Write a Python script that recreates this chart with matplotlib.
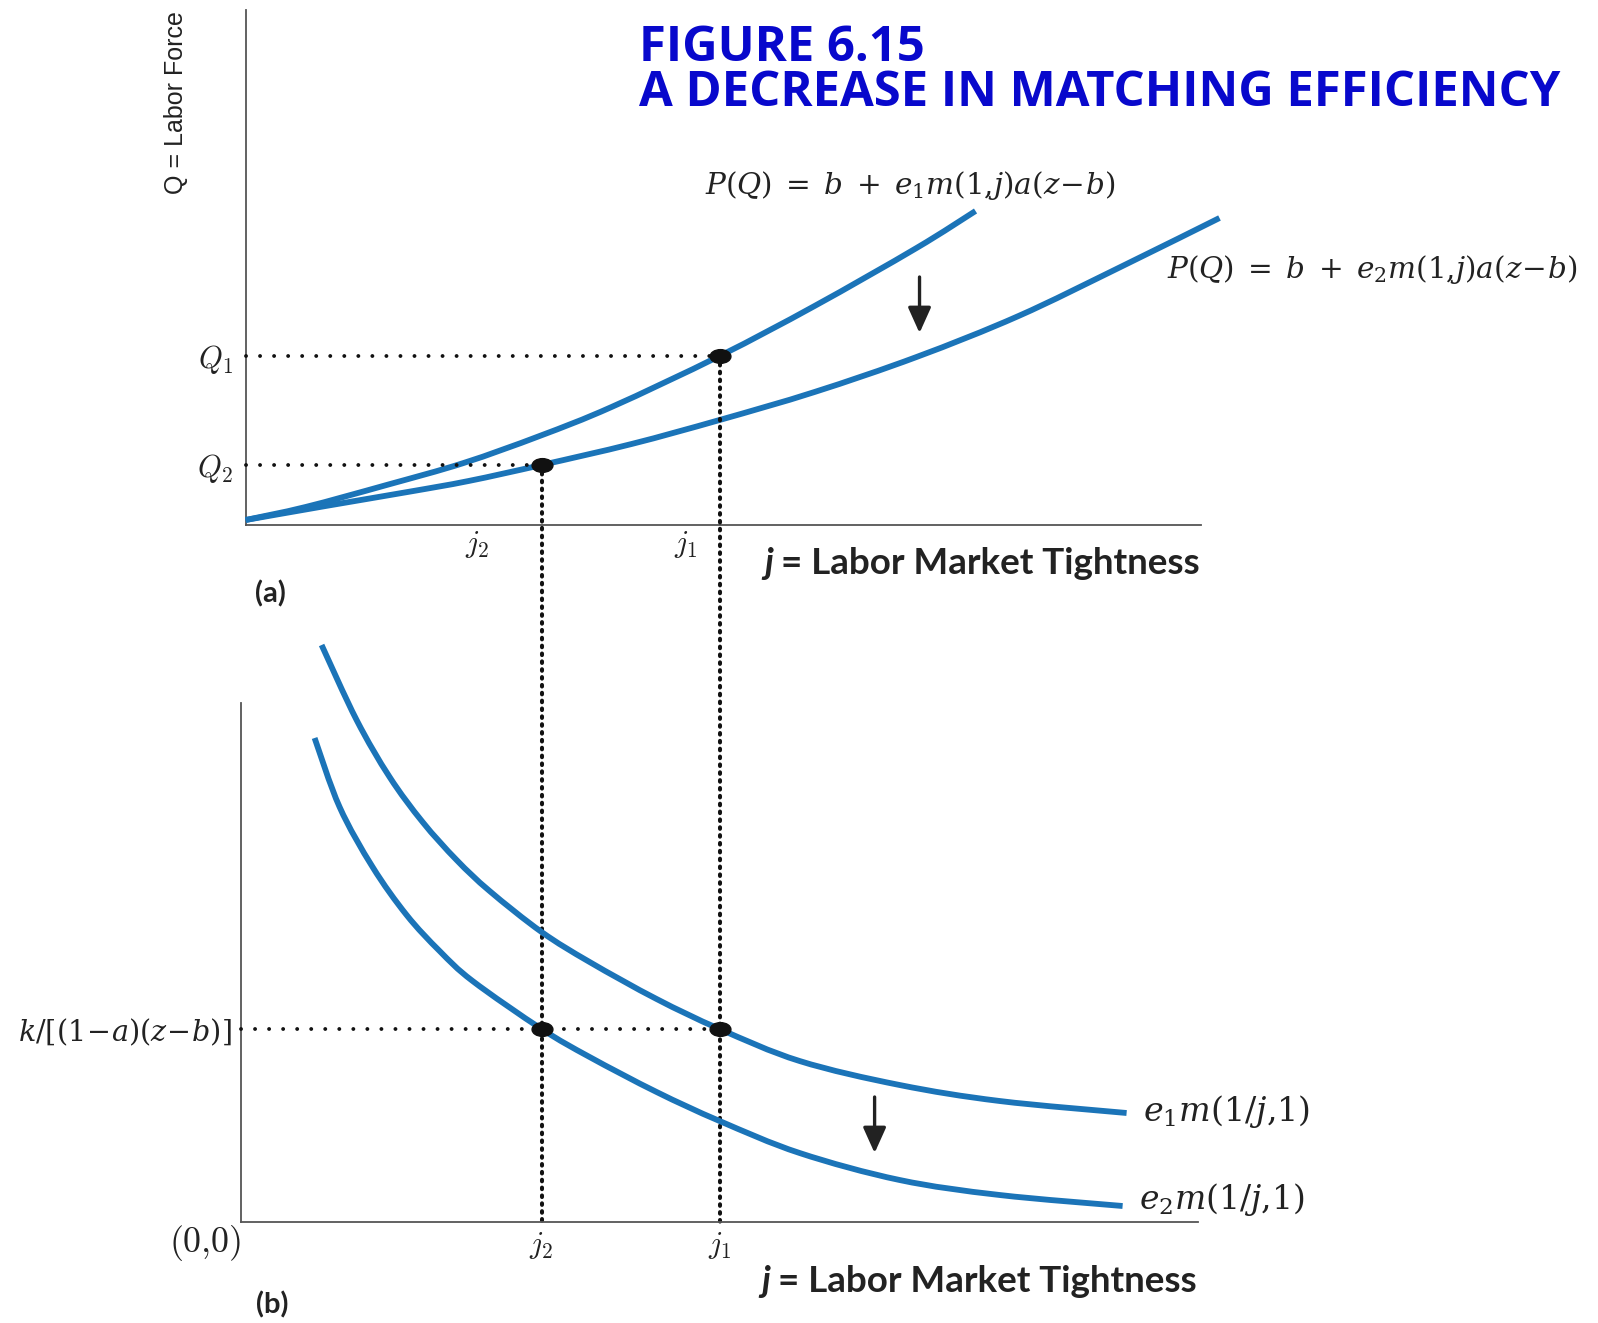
import numpy as np
import matplotlib
matplotlib.use('Agg')
import matplotlib.pyplot as plt
from matplotlib.path import Path
from matplotlib.patches import PathPatch
from matplotlib.text import Annotation
from matplotlib.transforms import Affine2D

W, H = 1598, 1323

# ---- data (axis units ~ pixels from each panel's origin) ----
top_e1_j = [0, 60, 141, 218, 294, 366, 474, 569, 671, 730]
top_e1_q = [5, 18, 40, 62, 89, 118, 169, 219, 277, 314]
top_e2_j = [0, 80, 162, 223, 296, 386, 474, 569, 671, 773, 875, 974]
top_e2_q = [5, 19, 33, 44, 60, 81, 105, 133, 168, 209, 258, 307]
bot_e1_j = [76, 111, 144, 177, 211, 244, 296, 344, 411, 474, 554, 654, 754, 881]
bot_e1_v = [577, 502, 445, 400, 362, 331, 290, 260, 223, 193, 161, 137, 121, 109]
bot_e2_j = [69, 94, 127, 161, 194, 227, 296, 344, 411, 474, 554, 654, 754, 877]
bot_e2_v = [484, 415, 355, 307, 271, 241, 193, 165, 130, 101, 69, 42, 27, 16]
j_eq = [296, 474]          # j2, j1
q_eq = [60, 169]           # Q2, Q1
k_level = 193
j_labels = [r'$j_2$', r'$j_1$']
q_labels = [r'$Q_2$', r'$Q_1$']
k_label = r'$k/[(1\!-\!a)(z\!-\!b)]$'
top_arrow = (674, 248, 192)   # x, from, to
bot_arrow = (629, 125, 69)

BLUE = '#1b74b8'
DOT = '#111111'
SPINE = '#555555'
INK = '#222222'

fig = plt.figure(figsize=(W / 100, H / 100), dpi=100)
renderer = fig.canvas.get_renderer()

def px_axes(left, top, right, bottom):
    return fig.add_axes([left / W, 1 - bottom / H, (right - left) / W, (bottom - top) / H])

ax1 = px_axes(245.6, 10, 1200.5, 525)
ax2 = px_axes(240.5, 703, 1197.5, 1222)
ax1.set_xlim(0, 955); ax1.set_ylim(0, 515)
ax2.set_xlim(-5.1, 951.9); ax2.set_ylim(0, 519)

for ax in (ax1, ax2):
    ax.patch.set_alpha(0)
    for s in ('top', 'right'):
        ax.spines[s].set_visible(False)
    for s in ('left', 'bottom'):
        ax.spines[s].set_color(SPINE)
        ax.spines[s].set_linewidth(1.3)
    ax.tick_params(length=0)

# ---- curves: smooth Bezier path through the read points ----
def smooth_path(xs, ys):
    P = np.column_stack([xs, ys]).astype(float)
    n = len(P)
    verts = [P[0]]
    codes = [Path.MOVETO]
    for i in range(n - 1):
        p0 = P[i - 1] if i > 0 else P[i]
        p1, p2 = P[i], P[i + 1]
        p3 = P[i + 2] if i + 2 < n else P[i + 1]
        verts += [p1 + (p2 - p0) / 6.0, p2 - (p3 - p1) / 6.0, p2]
        codes += [Path.CURVE4] * 3
    return Path(verts, codes)

def curve(ax, xs, ys):
    ax.add_patch(PathPatch(smooth_path(xs, ys), facecolor='none', edgecolor=BLUE,
                           lw=4.2, capstyle='butt', joinstyle='round',
                           clip_on=False, zorder=3))

curve(ax1, top_e1_j, top_e1_q)
curve(ax1, top_e2_j, top_e2_q)
curve(ax2, bot_e1_j, bot_e1_v)
curve(ax2, bot_e2_j, bot_e2_v)

# ---- dotted guides ----
hdots = dict(color=DOT, lw=2.8, linestyle=(0, (0.01, 3.6)), dash_capstyle='round',
             clip_on=False, zorder=4)
vdots = dict(color=DOT, lw=2.9, linestyle=(0, (0.4, 1.55)), dash_capstyle='round',
             clip_on=False, zorder=4)
for j, q in zip(j_eq, q_eq):
    ax1.plot([0, j], [q, q], **hdots)
    disp = ax2.transData.transform((j, 0))
    yb = ax1.transData.inverted().transform(disp)[1]
    ax1.plot([j, j], [q, yb], **vdots)
ax2.plot([ax2.get_xlim()[0], j_eq[1]], [k_level, k_level], **hdots)

# ---- equilibrium points ----
ell = Path(Affine2D().scale(1.0, 0.66).transform(Path.unit_circle().vertices),
           Path.unit_circle().codes)
ax1.plot(j_eq, q_eq, linestyle='none', marker=ell, ms=15, color='#111111', zorder=5,
         clip_on=False)
ax2.plot(j_eq, [k_level, k_level], linestyle='none', marker=ell, ms=15, color='#111111',
         zorder=5, clip_on=False)

# ---- arrows ----
astyle = dict(arrowstyle='-|>,head_length=0.6,head_width=0.27', lw=2.4, color=INK,
              mutation_scale=26, shrinkA=0, shrinkB=0)
ax1.annotate('', xy=(top_arrow[0], top_arrow[2]), xytext=(top_arrow[0], top_arrow[1]),
             arrowprops=astyle, annotation_clip=False)
ax2.annotate('', xy=(bot_arrow[0], bot_arrow[2]), xytext=(bot_arrow[0], bot_arrow[1]),
             arrowprops=astyle, annotation_clip=False)

# ---- helpers ----
def fitted_size(s, target, size=20, **kw):
    t = fig.text(0, 0, s, fontsize=size, **kw)
    bb = t.get_window_extent(renderer=renderer)
    t.remove()
    return size * target / bb.width

def ptext(x, y, s, width=None, **kw):
    t = fig.text(x / W, 1 - y / H, s, **kw)
    if width is not None:
        bb = t.get_window_extent(renderer=renderer)
        t.set_fontsize(t.get_fontsize() * width / bb.width)
    return t

# ---- ticks ----
ax1.set_xticks([])
ax1.set_yticks(q_eq)
ax1.set_yticklabels(q_labels, fontsize=22, math_fontfamily='cm', color=INK)
ax1.tick_params(axis='y', pad=9)
ax2.set_xticks(j_eq)
ax2.set_xticklabels(j_labels, fontsize=22, math_fontfamily='cm', color=INK)
ax2.tick_params(axis='x', pad=6)
ax2.set_yticks([k_level])
kfs = fitted_size(k_label, 214, math_fontfamily='dejavuserif')
ax2.set_yticklabels([k_label], fontsize=kfs, math_fontfamily='dejavuserif', color=INK)
ax2.tick_params(axis='y', pad=6)

# ---- title ----
title_kw = dict(family='Open Sans', weight='bold', color='#0808cc', ha='left', va='baseline')
t2 = ptext(639, 106, 'A DECREASE IN MATCHING EFFICIENCY', width=923, fontsize=30, **title_kw)
ptext(639, 61, 'FIGURE 6.15', fontsize=t2.get_fontsize(), **title_kw)

# ---- axis titles ----
ptext(176, 103, 'Q = Labor Force', rotation=90, ha='center', va='center', fontsize=18,
      family='Liberation Sans', color=INK)

eq_kw = dict(math_fontfamily='dejavuserif', color=INK, ha='left', va='center', fontsize=18)
ptext(705, 186, r'$P(Q)\;=\;b\;+\;e_1m(1{,}j)a(z\!-\!b)$', width=410, **eq_kw)
ptext(1167, 270, r'$P(Q)\;=\;b\;+\;e_2m(1{,}j)a(z\!-\!b)$', width=410, **eq_kw)
ptext(1143, 1111, r'$e_1m(1/j{,}1)$', width=168, **eq_kw)
ptext(1139, 1199, r'$e_2m(1/j{,}1)$', width=166, **eq_kw)

ptext(477, 544, j_labels[0], fontsize=22, math_fontfamily='cm', ha='center', va='center',
      color=INK)
ptext(686, 544, j_labels[1], fontsize=22, math_fontfamily='cm', ha='center', va='center',
      color=INK)

ptext(205, 1243, r'$(0{,}0)$', width=73, fontsize=18, math_fontfamily='cm', ha='center',
      va='center', color=INK)

lab_font = dict(family='Lato', weight='bold', color=INK)
lab_fs = fitted_size('= Labor Market Tightness', 420, **lab_font)

def xlabel(right, y):
    t = ptext(right, y, '= Labor Market Tightness', ha='right', va='center',
              fontsize=lab_fs, **lab_font)
    fig.add_artist(Annotation('j ', xy=(0, 0.5), xycoords=t, ha='right', va='center',
                              family='Lato', weight='bold', style='italic', color=INK,
                              fontsize=lab_fs))
    return t

xlabel(1200, 563)
xlabel(1197, 1282)

ptext(270, 594, '(a)', ha='center', va='center', fontsize=21, **lab_font)
ptext(272, 1305, '(b)', ha='center', va='center', fontsize=21, **lab_font)

fig.savefig('out.png', dpi=100)
